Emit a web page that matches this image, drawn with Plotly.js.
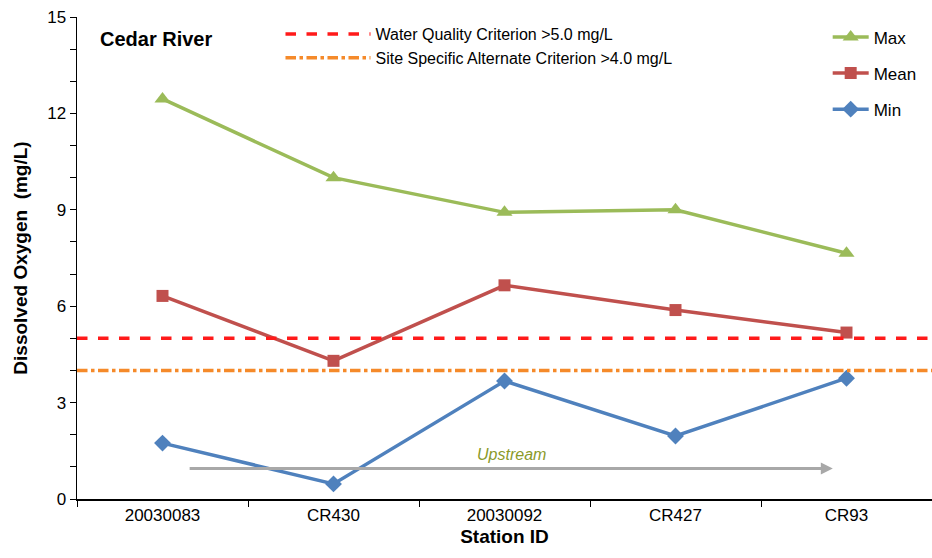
<!DOCTYPE html>
<html><head><meta charset="utf-8">
<script src="https://cdn.plot.ly/plotly-3.0.1.min.js"></script>
<style>html,body{margin:0;padding:0;background:#fff}</style>
</head><body>
<div id="chart" style="width:932px;height:558px"></div>
<script>
const stations = ["20030083", "CR430", "20030092", "CR427", "CR93"];
const maxDO  = [12.45, 10.0, 8.92, 9.0, 7.65];
const meanDO = [6.32, 4.3, 6.65, 5.88, 5.18];
const minDO  = [1.74, 0.47, 3.67, 1.96, 3.76];
const wqCriterion = 5.0;
const siteCriterion = 4.0;
const yTickVals = [0,1,2,3,4,5,6,7,8,9,10,11,12,13,14,15];
const yTickText = yTickVals.map(v => v % 3 === 0 ? String(v) : "");

const font = "Liberation Sans Narrow, Arial Narrow, Liberation Sans, Arial, sans-serif";
const lfont = "Liberation Sans, Arial, sans-serif";

const traces = [
  {x:[0,1], y:[wqCriterion,wqCriterion], xaxis:"x2", yaxis:"y", mode:"lines",
   name:"Water Quality Criterion >5.0 mg/L", line:{color:"#FF1A1A", width:3.5, dash:"dash"},
   legend:"legend", hoverinfo:"skip"},
  {x:[0,1], y:[siteCriterion,siteCriterion], xaxis:"x2", yaxis:"y", mode:"lines",
   name:"Site Specific Alternate Criterion >4.0 mg/L", line:{color:"#F58A2A", width:3.5, dash:"dashdot"},
   legend:"legend", hoverinfo:"skip"},
  {x:stations, y:maxDO, mode:"lines+markers", name:"Max", legend:"legend2", legendgroup:"a",
   line:{color:"#9BBB59", width:3.5}, marker:{symbol:"triangle-up", size:14, color:"#9BBB59"}},
  {x:stations, y:meanDO, mode:"lines+markers", name:"Mean", legend:"legend2", legendgroup:"b",
   line:{color:"#C0504D", width:3.5}, marker:{symbol:"square", size:12, color:"#C0504D"}},
  {x:stations, y:minDO, mode:"lines+markers", name:"Min", legend:"legend2", legendgroup:"c",
   line:{color:"#4F81BD", width:3.5}, marker:{symbol:"diamond", size:13, color:"#4F81BD"}}
];

const layout = {
  width:932, height:558,
  margin:{l:77, r:0, t:17, b:59},
  paper_bgcolor:"#fff", plot_bgcolor:"#fff",
  font:{family:font, size:15, color:"#000"},
  xaxis:{type:"category", range:[-0.5,4.5], showgrid:false, zeroline:false,
    showline:true, linecolor:"#000", linewidth:1.5,
    ticks:"outside", ticklen:6, tickcolor:"#000", tickson:"boundaries",
    tickfont:{family:font, size:17}, automargin:false,
    title:{text:"<b>Station ID</b>", font:{family:lfont, size:19}, standoff:6}},
  xaxis2:{overlaying:"x", range:[0,1], visible:false, showgrid:false, zeroline:false},
  yaxis:{range:[0,15], tickvals:yTickVals, ticktext:yTickText, showgrid:false, zeroline:false,
    showline:true, linecolor:"#000", linewidth:1.5, ticks:"outside", ticklen:6, tickcolor:"#000",
    tickfont:{family:font, size:17}, automargin:false,
    title:{text:"<b>Dissolved Oxygen  (mg/L)</b>", font:{family:lfont, size:19}, standoff:14}},
  showlegend:true,
  legend:{x:0.238, y:1.0, xanchor:"left", yanchor:"top", bgcolor:"rgba(0,0,0,0)",
    font:{family:lfont, size:16}, itemwidth:85, tracegroupgap:0},
  legend2:{x:0.878, y:0.995, xanchor:"left", yanchor:"top", bgcolor:"rgba(0,0,0,0)",
    font:{family:lfont, size:17}, tracegroupgap:11, itemwidth:36},
  annotations:[
    {text:"<b>Cedar River</b>", xref:"paper", yref:"paper", x:0.024, y:0.955, xanchor:"left", yanchor:"middle",
     showarrow:false, font:{family:lfont, size:20, color:"#000"}},
    {x:3.92, y:0.95, ax:0.15, ay:0.95, xref:"x", yref:"y", axref:"x", ayref:"y",
     showarrow:true, arrowhead:2, arrowsize:0.8, arrowwidth:3, arrowcolor:"#A8A8A8", text:""},
    {text:"<i>Upstream</i>", xref:"x", yref:"y", x:2.04, y:1.38, showarrow:false,
     font:{family:font, size:16, color:"#8A9A2A"}}
  ]
};

Plotly.newPlot("chart", traces, layout, {displayModeBar:false, staticPlot:true});
</script>
</body></html>
